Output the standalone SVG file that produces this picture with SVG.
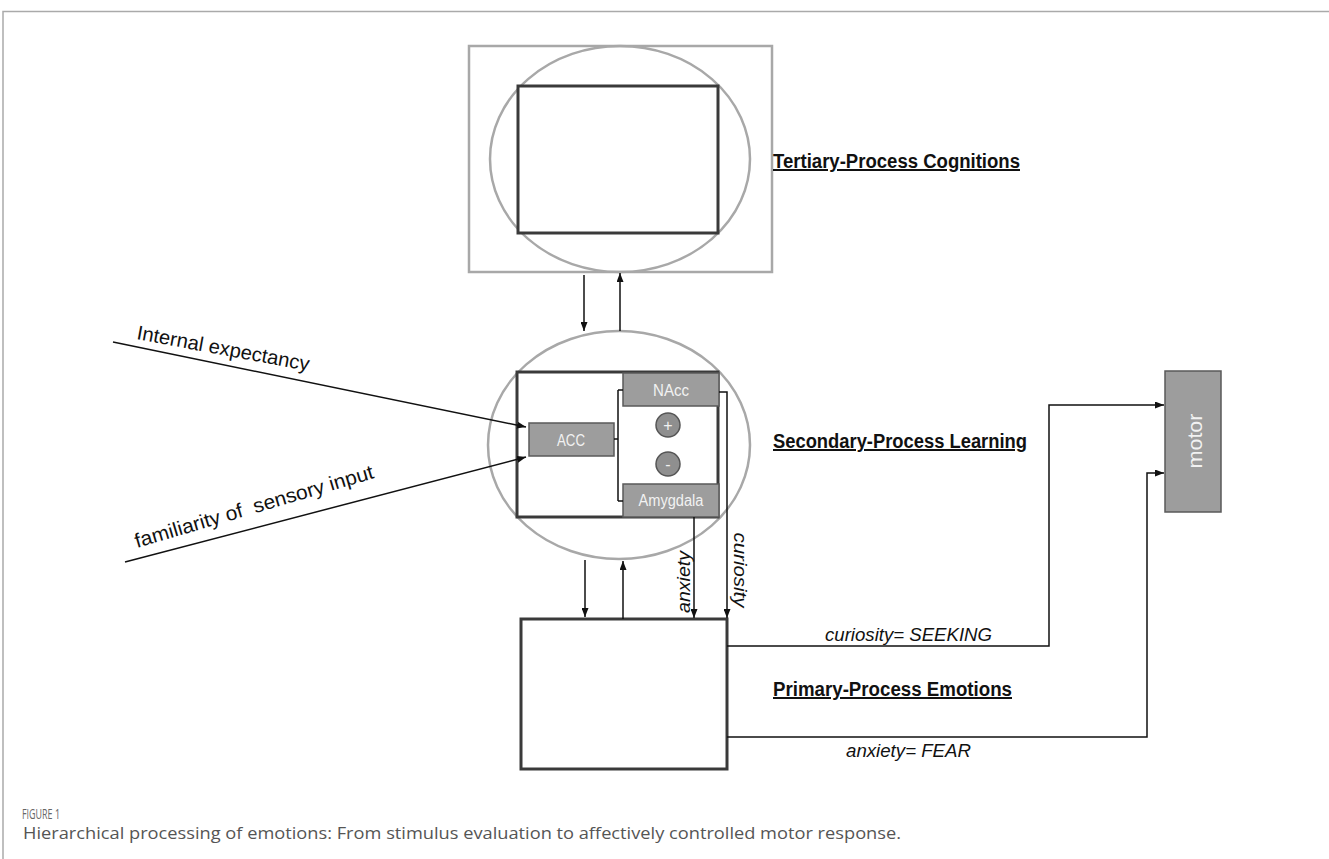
<svg xmlns="http://www.w3.org/2000/svg" width="1329" height="859" viewBox="0 0 1329 859">
<style>
.t{font-family:"Liberation Sans",Arial,sans-serif;fill:#111}
.it{font-style:italic;font-size:19px}
.hd{font-weight:bold;font-size:20px;text-decoration:underline}
.gb{fill:#9d9d9d;stroke:#5a5a5a;stroke-width:1.5}
.wl{font-family:"Liberation Sans",Arial,sans-serif;fill:#f2f2f2;font-size:16px;text-anchor:middle}
.ln{fill:none;stroke:#111;stroke-width:1.5}
.dk{fill:#fff;stroke:#3a3a3a;stroke-width:3}
.gr{fill:none;stroke:#a8a8a8;stroke-width:2.5}
</style>
<defs>
<marker id="ah" viewBox="0 0 9 7" refX="9" refY="3.5" markerWidth="9" markerHeight="7" markerUnits="userSpaceOnUse" orient="auto">
<path d="M0,0 L9,3.5 L0,7 z" fill="#111"/>
</marker>
</defs>
<rect width="1329" height="859" fill="#fff"/>
<path d="M3,859 V11.5 H1329" fill="none" stroke="#aaa" stroke-width="1.5"/>

<g id="tertiary">
<rect x="469" y="46" width="303" height="226" class="gr" fill="#fff"/>
<ellipse cx="620" cy="159" rx="130" ry="113" class="gr"/>
<rect x="518" y="86" width="200" height="147" class="dk" fill="none"/>
<text class="t hd" x="773" y="168" textLength="247" lengthAdjust="spacingAndGlyphs">Tertiary-Process Cognitions</text>
</g>

<g id="secondary">
<ellipse cx="619" cy="445" rx="131" ry="114" class="gr" fill="#fff"/>
<rect x="517" y="372" width="201" height="145" class="dk"/>
<text class="t hd" x="773" y="448" textLength="254" lengthAdjust="spacingAndGlyphs">Secondary-Process Learning</text>
</g>

<g id="nacc">
<rect x="623" y="373" width="96" height="33" class="gb"/>
<text class="wl" x="671" y="396" textLength="36" lengthAdjust="spacingAndGlyphs">NAcc</text>
</g>
<g id="acc">
<rect x="529" y="423" width="85" height="33" class="gb"/>
<text class="wl" x="571" y="446" textLength="28" lengthAdjust="spacingAndGlyphs">ACC</text>
</g>
<g id="amygdala">
<rect x="623" y="484" width="96" height="33" class="gb"/>
<text class="wl" x="671" y="506" textLength="65" lengthAdjust="spacingAndGlyphs">Amygdala</text>
</g>
<g id="plus">
<circle cx="668" cy="425" r="12" fill="#8f8f8f" stroke="#555" stroke-width="1.5"/>
<text class="wl" x="668" y="431" font-size="18">+</text>
</g>
<g id="minus">
<circle cx="668" cy="464" r="12" fill="#8f8f8f" stroke="#555" stroke-width="1.5"/>
<text class="wl" x="668" y="470" font-size="18">-</text>
</g>

<g id="primary">
<rect x="521" y="619" width="206" height="150" class="dk"/>
<text class="t hd" x="773" y="696" textLength="239" lengthAdjust="spacingAndGlyphs">Primary-Process Emotions</text>
</g>

<g id="motor">
<rect x="1165" y="371" width="56" height="141" fill="#9d9d9d" stroke="#5a5a5a" stroke-width="1.5"/>
<text transform="translate(1202,441) rotate(-90)" text-anchor="middle" font-family="Liberation Sans, Arial, sans-serif" font-size="21" fill="#f2f2f2" textLength="55" lengthAdjust="spacingAndGlyphs">motor</text>
</g>

<g id="connectors">
<line x1="584" y1="275" x2="584" y2="331" class="ln" marker-end="url(#ah)"/>
<line x1="620" y1="331" x2="620" y2="273" class="ln" marker-end="url(#ah)"/>
<line x1="585" y1="560" x2="585" y2="617" class="ln" marker-end="url(#ah)"/>
<line x1="623" y1="619" x2="623" y2="561" class="ln" marker-end="url(#ah)"/>
<line x1="694" y1="517" x2="694" y2="618" class="ln" marker-end="url(#ah)"/>
<path d="M719,392 H727 V618" class="ln" marker-end="url(#ah)"/>
<path d="M727,646 H1049 V405 H1164" class="ln" marker-end="url(#ah)"/>
<path d="M727,737 H1147 V473 H1164" class="ln" marker-end="url(#ah)"/>
<line x1="113" y1="342" x2="526" y2="427" class="ln" marker-end="url(#ah)"/>
<line x1="125" y1="562" x2="526" y2="457" class="ln" marker-end="url(#ah)"/>
<path d="M614,439 H618 M618,390 V501 M618,390 H623 M618,501 H623" class="ln"/>
</g>

<g id="labels">
<text class="t" font-size="20" transform="translate(136,339) rotate(10.5)" textLength="175" lengthAdjust="spacingAndGlyphs">Internal expectancy</text>
<text class="t" font-size="20" xml:space="preserve" transform="translate(137,548) rotate(-16.4)" textLength="248" lengthAdjust="spacingAndGlyphs">familiarity of  sensory input</text>
<text class="t it" text-anchor="middle" transform="translate(690,582) rotate(-90)" textLength="62" lengthAdjust="spacingAndGlyphs">anxiety</text>
<text class="t it" text-anchor="middle" transform="translate(734,570) rotate(90)" textLength="75" lengthAdjust="spacingAndGlyphs">curiosity</text>
<text class="t it" x="825" y="641" textLength="167" lengthAdjust="spacingAndGlyphs">curiosity= SEEKING</text>
<text class="t it" x="846" y="757" textLength="125" lengthAdjust="spacingAndGlyphs">anxiety= FEAR</text>
</g>

<g id="caption">
<text x="22" y="819" font-family="Open Sans, Liberation Sans, sans-serif" font-size="14" fill="#666" textLength="38" lengthAdjust="spacingAndGlyphs">FIGURE 1</text>
<text x="23" y="839" font-family="Open Sans, Liberation Sans, sans-serif" font-size="17" fill="#555" textLength="878" lengthAdjust="spacingAndGlyphs">Hierarchical processing of emotions: From stimulus evaluation to affectively controlled motor response.</text>
</g>
</svg>
